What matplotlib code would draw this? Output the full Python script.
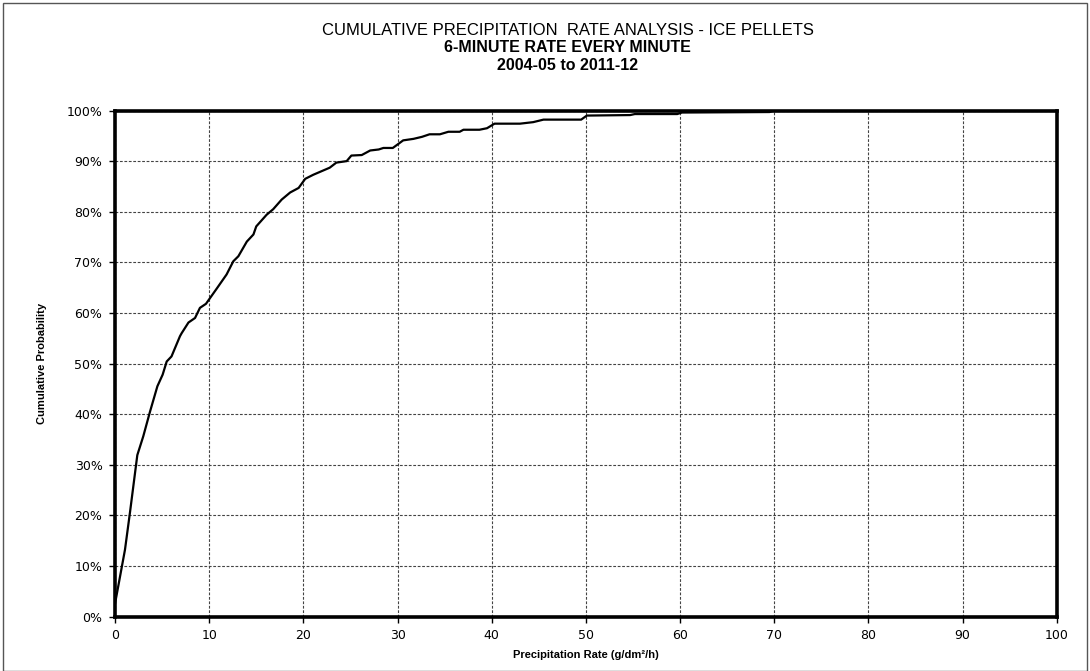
import matplotlib.pyplot as plt
from matplotlib.patches import Rectangle
from matplotlib.ticker import FuncFormatter

# curve
rate = [0, 1.06, 1.6, 2.37, 3.0, 3.72, 4.5, 5.06, 5.49, 6.0, 6.9, 7.08, 7.8, 8.5, 9.02,
        9.66, 10.8, 11.85, 12.56, 13.1, 14.0, 14.7, 15.0, 16.1, 16.8, 17.7, 18.6, 19.5,
        20.2, 21.05, 22.8, 23.5, 24.6, 25.1, 26.2, 27.1, 28.0, 28.5, 29.5, 30.6, 31.7,
        32.6, 33.4, 34.5, 35.4, 36.6, 37.0, 38.7, 39.5, 40.3, 43.0, 44.4, 45.5, 49.5,
        50.1, 54.7, 55.2, 59.7, 60.2, 69.5, 70.0]
prob = [2.5, 13.2, 20.7, 31.9, 35.6, 40.5, 45.5, 47.8, 50.4, 51.4, 55.4, 56.0, 58.1, 59.0,
        61.0, 61.8, 64.8, 67.6, 70.2, 71.2, 74.1, 75.5, 77.1, 79.4, 80.5, 82.4, 83.8, 84.7,
        86.5, 87.3, 88.7, 89.7, 90.0, 91.1, 91.2, 92.1, 92.3, 92.6, 92.6, 94.1, 94.4,
        94.8, 95.3, 95.3, 95.8, 95.8, 96.2, 96.2, 96.5, 97.4, 97.4, 97.7, 98.2, 98.2,
        99.0, 99.1, 99.3, 99.3, 99.6, 99.7, 100.0]

title1 = "CUMULATIVE PRECIPITATION  RATE ANALYSIS - ICE PELLETS"
title2 = "6-MINUTE RATE EVERY MINUTE"
title3 = "2004-05 to 2011-12"

narrow = ["Liberation Sans Narrow", "Liberation Sans"]

fig = plt.figure(figsize=(10.9, 6.71), dpi=100)
ax = fig.add_axes([0.1055, 0.0812, 0.864, 0.7541])

ax.plot(rate, prob, color="black", lw=1.6)

ax.set_xlim(0, 100)
ax.set_ylim(0, 100)
ax.set_xticks(range(0, 101, 10))
ax.set_yticks(range(0, 101, 10))
ax.yaxis.set_major_formatter(FuncFormatter(lambda v, p: f"{int(v)}%"))
ax.tick_params(direction="out", length=4, width=1, labelsize=9, pad=5)
for lab in ax.get_xticklabels() + ax.get_yticklabels():
    lab.set_family("DejaVu Sans")

ax.grid(True, color="#444444", linestyle=(0, (2.5, 1.5)), linewidth=0.8)
for s in ax.spines.values():
    s.set_linewidth(2.6)
    s.set_color("black")

ax.set_xlabel("Precipitation Rate (g/dm²/h)", fontsize=8, fontweight="bold",
              family=narrow, labelpad=6)
ax.set_ylabel("Cumulative Probability", fontsize=8, fontweight="bold",
              family=narrow, labelpad=14)

fig.text(0.521, 0.955, title1, ha="center", va="center", fontsize=12, family=narrow)
fig.text(0.521, 0.929, title2, ha="center", va="center", fontsize=11.5, fontweight="bold",
         family=narrow)
fig.text(0.521, 0.902, title3, ha="center", va="center", fontsize=11.5, fontweight="bold",
         family=narrow)

fig.patches.append(Rectangle((0.003, 0.0), 0.994, 0.995, transform=fig.transFigure,
                             fill=False, edgecolor="#555555", linewidth=1))

fig.savefig("out.png", dpi=100)
